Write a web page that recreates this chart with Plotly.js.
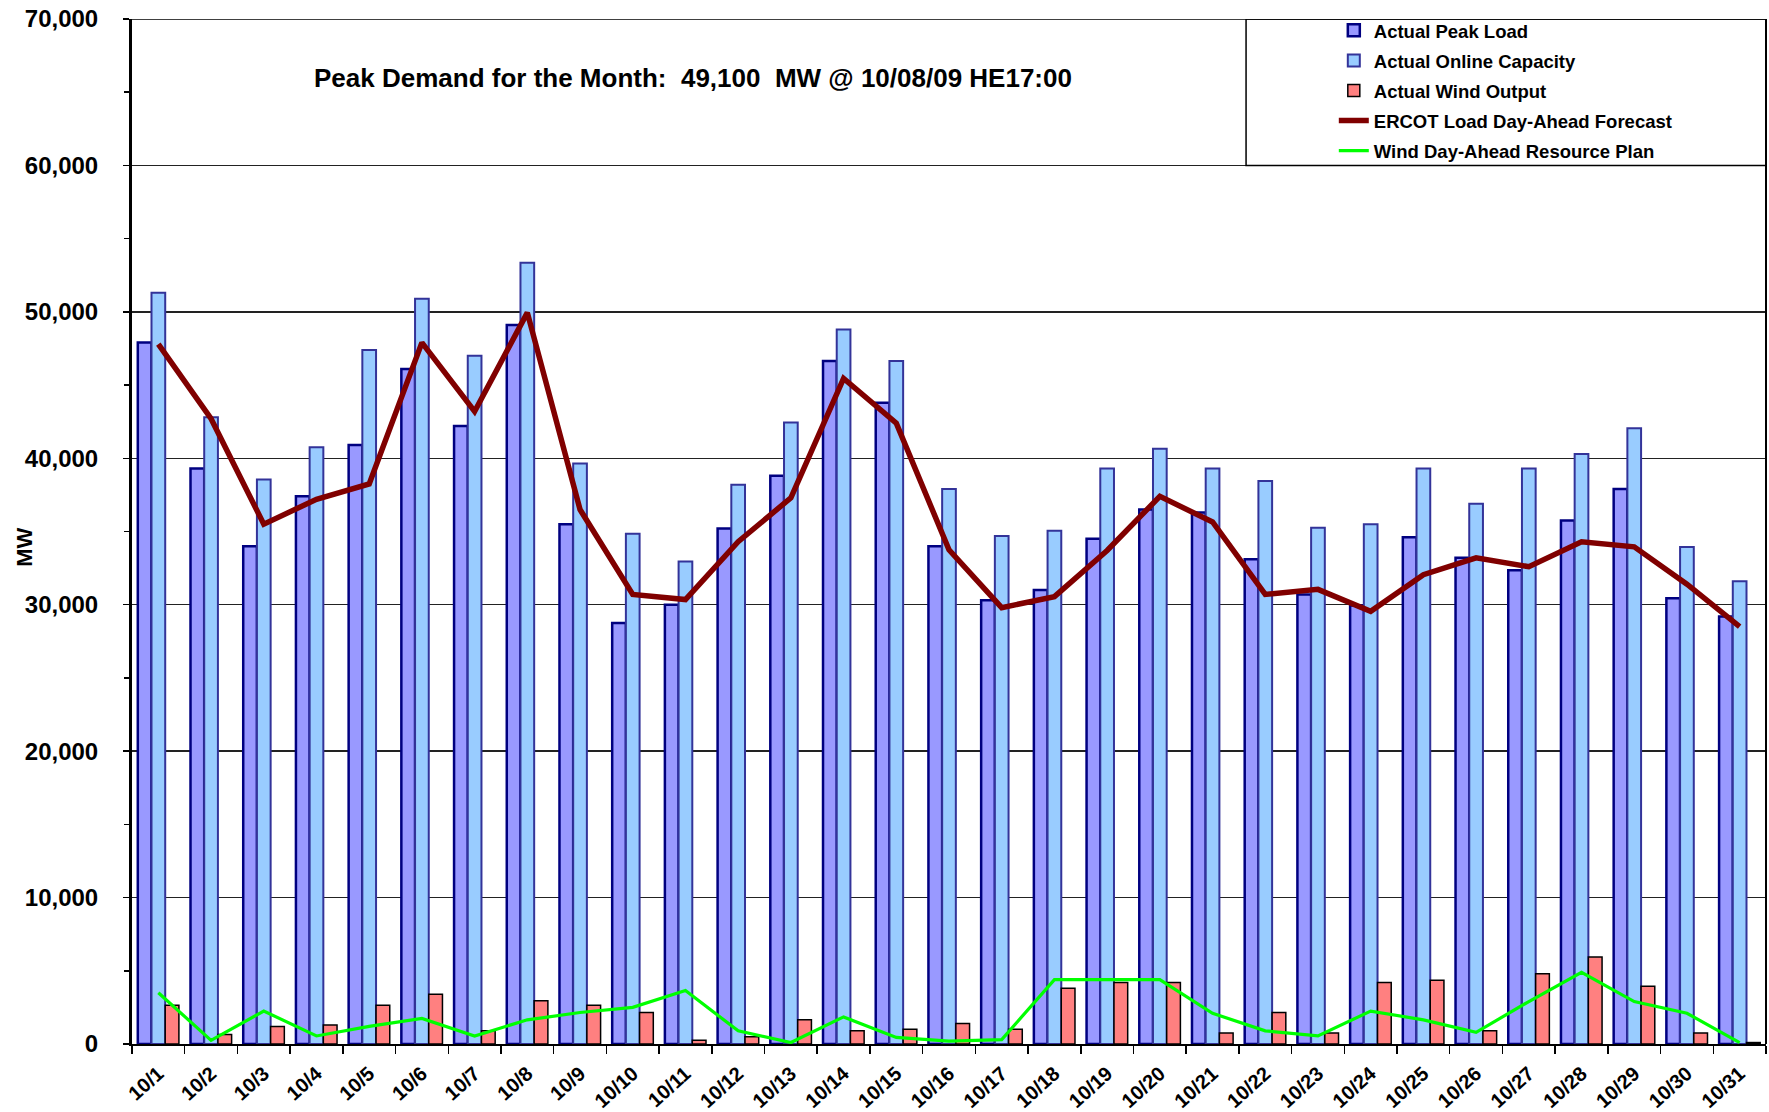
<!DOCTYPE html>
<html>
<head>
<meta charset="utf-8">
<script src="https://cdn.plot.ly/plotly-3.0.1.min.js"></script>
<style>html,body{margin:0;padding:0;background:#fff;}#chart{width:1769px;height:1112px;}</style>
</head>
<body>
<div id="chart"></div>
<script>
const days = ['10/1','10/2','10/3','10/4','10/5','10/6','10/7','10/8','10/9','10/10','10/11','10/12','10/13','10/14','10/15','10/16','10/17','10/18','10/19','10/20','10/21','10/22','10/23','10/24','10/25','10/26','10/27','10/28','10/29','10/30','10/31'];
const peakLoad = [47900, 39300, 34000, 37400, 40900, 46100, 42200, 49100, 35500, 28750, 30000, 35200, 38800, 46650, 43800, 34000, 30300, 31000, 34500, 36500, 36300, 33100, 30700, 29950, 34600, 33200, 32350, 35750, 37900, 30450, 29200];
const onlineCapacity = [51300, 42800, 38550, 40750, 47400, 50900, 47000, 53350, 39650, 34850, 32950, 38200, 42450, 48800, 46650, 37900, 34700, 35050, 39300, 40650, 39300, 38450, 35250, 35500, 39300, 36900, 39300, 40300, 42050, 33950, 31600];
const windOutput = [2650, 650, 1200, 1300, 2650, 3400, 900, 2950, 2650, 2150, 250, 500, 1650, 900, 1000, 1400, 1000, 3800, 4200, 4200, 750, 2150, 750, 4200, 4350, 900, 4800, 5950, 3950, 750, 100];
const loadForecast = [47800, 42700, 35500, 37200, 38250, 47900, 43200, 49950, 36500, 30700, 30350, 34300, 37300, 45450, 42400, 33750, 29800, 30550, 33700, 37400, 35650, 30700, 31050, 29550, 32050, 33200, 32600, 34300, 33950, 31400, 28500];
const windPlan = [3500, 250, 2250, 550, 1200, 1750, 550, 1650, 2150, 2500, 3650, 900, 100, 1850, 450, 200, 300, 4400, 4400, 4400, 2100, 900, 550, 2250, 1650, 800, 2900, 4900, 2900, 2100, 100];
const titleText = 'Peak Demand for the Month:\u00A0\u00A049,100\u00A0\u00A0MW @ 10/08/09 HE17:00';

const FONT = 'Liberation Sans, Arial, sans-serif';

const traces = [
  {type:'bar', name:'Actual Peak Load', x:days, y:peakLoad, legendgroup:'a',
   marker:{color:'#9999FF', line:{color:'#000080', width:2.5}}},
  {type:'bar', name:'Actual Online Capacity', x:days, y:onlineCapacity, legendgroup:'b',
   marker:{color:'#99CCFF', line:{color:'#333399', width:2}}},
  {type:'bar', name:'Actual Wind Output', x:days, y:windOutput, legendgroup:'c',
   marker:{color:'#FF8080', line:{color:'#000000', width:1.5}}},
  {type:'scatter', mode:'lines', name:'ERCOT Load Day-Ahead Forecast', x:days, y:loadForecast, legendgroup:'d',
   line:{color:'#800000', width:5.5}},
  {type:'scatter', mode:'lines', name:'Wind Day-Ahead Resource Plan', x:days, y:windPlan, legendgroup:'e',
   line:{color:'#00FF00', width:3.2}}
];

const layout = {
  width:1769, height:1112,
  margin:{l:132, r:3, t:19, b:68},
  paper_bgcolor:'#ffffff', plot_bgcolor:'#ffffff',
  font:{family:FONT, color:'#000', weight:700},
  barmode:'group', bargap:0.22, bargroupgap:0,
  showlegend:true,
  legend:{x:0.7355, y:1.007, xanchor:'left', yanchor:'top', bgcolor:'rgba(0,0,0,0)',
          borderwidth:0, font:{family:FONT, size:18.5, weight:700, color:'#000'},
          traceorder:'grouped', tracegroupgap:3},
  xaxis:{type:'category', tickson:'boundaries', ticks:'outside', ticklen:8, tickwidth:1.5, tickcolor:'#000',
         showline:true, linecolor:'#000', linewidth:2, showgrid:false, tickangle:-42, ticklabelstandoff:8,
         tickfont:{family:FONT, size:20, weight:700, color:'#000'}, automargin:false},
  yaxis:{range:[0,70000], dtick:10000, tickformat:',d', ticks:'outside', ticklen:6, tickwidth:1.5, tickcolor:'#000',
         minor:{dtick:5000, ticks:'outside', ticklen:5, tickwidth:1.5, tickcolor:'#000', showgrid:false},
         showline:true, linecolor:'#000', linewidth:3, showgrid:true, gridcolor:'#222', gridwidth:1.5,
         zeroline:false, ticklabelstandoff:20,
         tickfont:{family:FONT, size:24, weight:700, color:'#000'}, automargin:false},
  shapes:[
    {type:'line', xref:'paper', yref:'y', x0:0, x1:1, y0:70000, y1:70000, line:{color:'#000', width:1.5}},
    {type:'line', xref:'paper', yref:'y', x0:1, x1:1, y0:0, y1:70000, line:{color:'#000', width:2}},
    {type:'rect', xref:'paper', yref:'y', x0:0.6818, x1:1, y0:60000, y1:70000, line:{color:'#000', width:1.5}}
  ],
  annotations:[
    {text:titleText, xref:'paper', yref:'paper', x:0.3433, y:0.9424, xanchor:'center', yanchor:'middle',
     showarrow:false, font:{family:FONT, size:26, weight:700, color:'#000'}},
    {text:'MW', xref:'paper', yref:'paper', x:-0.0655, y:0.485, xanchor:'center', yanchor:'middle',
     textangle:-90, showarrow:false, font:{family:FONT, size:22, weight:700, color:'#000'}}
  ]
};

Plotly.newPlot('chart', traces, layout, {staticPlot:true, displayModeBar:false});
</script>
</body>
</html>
